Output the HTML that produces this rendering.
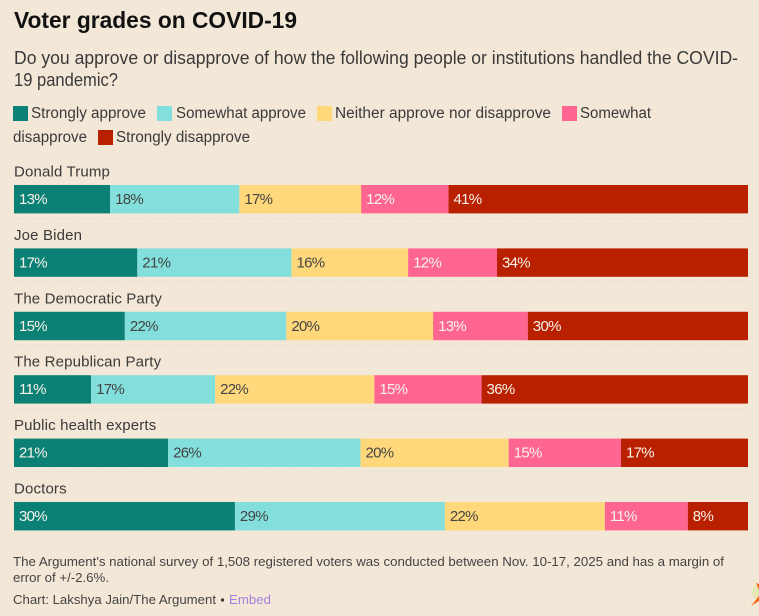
<!DOCTYPE html>
<html lang="en">
<head>
<meta charset="utf-8">
<title>Voter grades on COVID-19</title>
<style>
  html, body { margin: 0; padding: 0; background: #f3e7d7; }
  body { width: 759px; height: 616px; overflow: hidden; }
  svg { display: block; }
  text { font-family: "Liberation Sans", sans-serif; }
</style>
</head>
<body>
<svg id="chart" xmlns="http://www.w3.org/2000/svg" width="759" height="616" viewBox="0 0 759 616">
  <rect width="759" height="616" fill="#f3e7d7"/>
  <text x="14" y="28" font-size="23.5" font-weight="700" fill="#111" textLength="283" lengthAdjust="spacingAndGlyphs">Voter grades on COVID-19</text>
  <text x="14" y="64" font-size="18" fill="#3a3a3a" textLength="724" lengthAdjust="spacingAndGlyphs">Do you approve or disapprove of how the following people or institutions handled the COVID-</text>
  <text x="14" y="86" font-size="18" fill="#3a3a3a" textLength="104" lengthAdjust="spacingAndGlyphs">19 pandemic?</text>

  <g font-size="15.5" fill="#3a3a3a">
    <rect x="13" y="106" width="15" height="15" fill="#0b8075"/>
    <text x="31" y="118" textLength="115" lengthAdjust="spacingAndGlyphs">Strongly approve</text>
    <rect x="157" y="106" width="15" height="15" fill="#82dfdb"/>
    <text x="176" y="118" textLength="130" lengthAdjust="spacingAndGlyphs">Somewhat approve</text>
    <rect x="317" y="106" width="15" height="15" fill="#ffd87c"/>
    <text x="335" y="118" textLength="216" lengthAdjust="spacingAndGlyphs">Neither approve nor disapprove</text>
    <rect x="562" y="106" width="15" height="15" fill="#ff6591"/>
    <text x="580" y="118" textLength="71" lengthAdjust="spacingAndGlyphs">Somewhat</text>
    <text x="13" y="142" textLength="74" lengthAdjust="spacingAndGlyphs">disapprove</text>
    <rect x="98" y="130" width="15" height="15" fill="#b82000"/>
    <text x="116" y="142" textLength="134" lengthAdjust="spacingAndGlyphs">Strongly disapprove</text>
  </g>

  <g id="rows"></g>

  <g font-size="13" fill="#444">
    <text x="13" y="566" textLength="711" lengthAdjust="spacingAndGlyphs">The Argument's national survey of 1,508 registered voters was conducted between Nov. 10-17, 2025 and has a margin of</text>
    <text x="13" y="582" textLength="96" lengthAdjust="spacingAndGlyphs">error of +/-2.6%.</text>
    <text x="13" y="604" textLength="203" lengthAdjust="spacingAndGlyphs">Chart: Lakshya Jain/The Argument</text>
    <circle cx="222.5" cy="600" r="1.6" fill="#333"/>
    <text x="229" y="604" fill="#a67fdd" textLength="42" lengthAdjust="spacingAndGlyphs">Embed</text>
  </g>

  <g>
    <circle cx="760" cy="592" r="8" fill="#dcea9a" opacity="0.6"/>
    <polygon points="751,606 759,596 759,601" fill="#f9670f"/>
    <polygon points="756,583 759,584 759,590" fill="#f9670f"/>
  </g>
</svg>
<script>
const categories = ["Donald Trump", "Joe Biden", "The Democratic Party", "The Republican Party", "Public health experts", "Doctors"];
const seriesNames = ["Strongly approve", "Somewhat approve", "Neither approve nor disapprove", "Somewhat disapprove", "Strongly disapprove"];
const stronglyApprove = [13.1, 16.8, 15.1, 10.5, 21.0, 30.1];
const somewhatApprove = [17.6, 21.0, 22.0, 16.9, 26.2, 28.6];
const neitherApprove = [16.6, 15.9, 20.0, 21.7, 20.2, 21.8];
const somewhatDisapprove = [11.9, 12.1, 12.9, 14.6, 15.3, 11.3];
const stronglyDisapprove = [40.8, 34.2, 30.0, 36.3, 17.3, 8.2];
const series = [stronglyApprove, somewhatApprove, neitherApprove, somewhatDisapprove, stronglyDisapprove];

const seriesColors = ["#0b8075", "#82dfdb", "#ffd87c", "#ff6591", "#b82000"];
const labelColors = ["#f8f3ea", "#444444", "#444444", "#f8f3ea", "#f8f3ea"];

const NS = "http://www.w3.org/2000/svg";
const rowsGroup = document.getElementById("rows");
const plotLeft = 14;
const plotRight = 748;
const firstBarTop = 185;
const rowStep = 63.4;
const barHeight = 28.4;

function xScale(value) {
  return plotLeft + (value / 100) * (plotRight - plotLeft);
}
function yScale(rowIndex) {
  return firstBarTop + rowIndex * rowStep;
}
function slug(s) {
  return s.toLowerCase().replace(/[^a-z0-9]+/g, "-");
}

categories.forEach(function (category, r) {
  const top = yScale(r);

  const label = document.createElementNS(NS, "text");
  
  
  label.setAttribute("x", plotLeft);
  label.setAttribute("y", top - 8.5);
  label.setAttribute("font-size", "15");
  label.setAttribute("letter-spacing", "0.15");
  label.setAttribute("fill", "#3a3a3a");
  label.textContent = category;
  rowsGroup.appendChild(label);

  let cumulative = 0;
  series.forEach(function (values, s) {
    const value = values[r];
    const x0 = xScale(cumulative);
    const x1 = xScale(cumulative + value);

    const bar = document.createElementNS(NS, "rect");
    
    
    bar.setAttribute("x", x0);
    bar.setAttribute("y", top);
    bar.setAttribute("width", x1 - x0);
    bar.setAttribute("height", barHeight);
    bar.setAttribute("fill", seriesColors[s]);
    rowsGroup.appendChild(bar);

    const valueLabel = document.createElementNS(NS, "text");
    
    
    valueLabel.setAttribute("x", x0 + 5);
    valueLabel.setAttribute("y", top + 19);
    valueLabel.setAttribute("font-size", "15");
    valueLabel.setAttribute("letter-spacing", "-0.7");
    valueLabel.setAttribute("fill", labelColors[s]);
    valueLabel.textContent = Math.round(value) + "%";
    rowsGroup.appendChild(valueLabel);

    cumulative += value;
  });

  if (r < categories.length - 1) {
    const rule = document.createElementNS(NS, "line");
    
    
    rule.setAttribute("x1", plotLeft);
    rule.setAttribute("x2", plotRight);
    rule.setAttribute("y1", top + 33.5);
    rule.setAttribute("y2", top + 33.5);
    rule.setAttribute("stroke", "#e2d7c7");
    rule.setAttribute("stroke-width", "1");
    rule.setAttribute("stroke-dasharray", "1 2");
    rowsGroup.appendChild(rule);
  }
});
</script>
</body>
</html>
